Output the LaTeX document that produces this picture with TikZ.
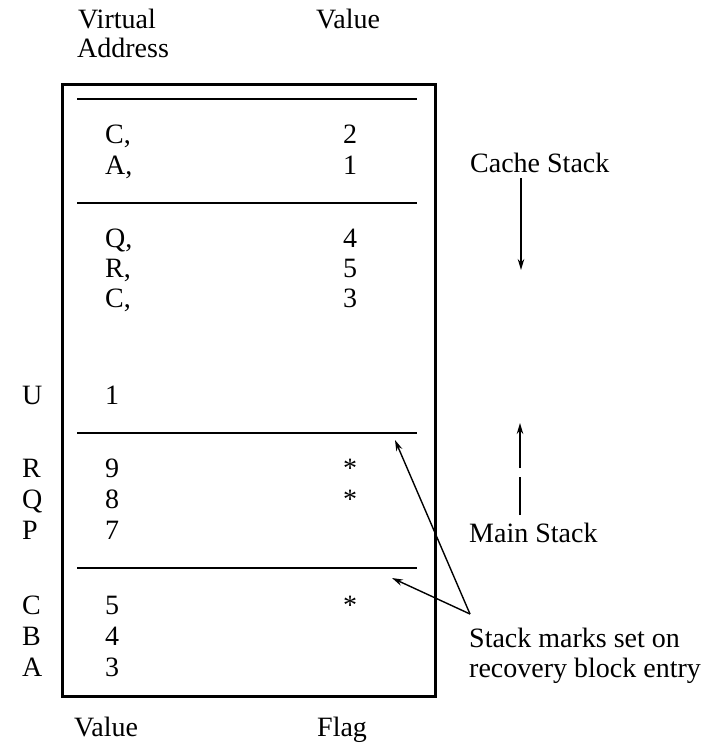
\documentclass[tikz,border=0pt]{standalone}
\usepackage{fontspec}
\setmainfont{Liberation Serif}
\usetikzlibrary{arrows.meta}
\begin{document}
\begin{tikzpicture}[x=1pt,y=-1pt,
  txt/.style={font=\fontsize{28}{32}\selectfont, inner sep=0pt, anchor=base west},
  frame/.style={draw, line width=3pt, inner sep=0pt, anchor=north west},
  rule/.style={line width=1.3pt},
  pointer/.style={line width=1.4pt, -{Stealth[length=11pt,width=6.5pt]}},
  shaft/.style={line width=1.4pt}]
\useasboundingbox (0,0) rectangle (704,745);

% column headings
\node[txt] (hVA1) at (78,28) {Virtual};
\node[txt] (hVA2) at (77,57) {Address};
\node[txt] (hVal) at (316,28) {Value};

% the stack frame
\node[frame, minimum width=373pt, minimum height=612pt] (stack) at (61,83) {};

% separators between regions
\draw[rule] (77,99) -- (417,99);
\draw[rule] (77,203) -- (417,203);
\draw[rule] (77,433) -- (417,433);
\draw[rule] (77,568) -- (417,568);

% cache stack entries
\node[txt] (c1a) at (105,143) {C,};  \node[txt] (c1v) at (343,143) {2};
\node[txt] (c2a) at (105,174) {A,};  \node[txt] (c2v) at (343,174) {1};
\node[txt] (c3a) at (105,247) {Q,};  \node[txt] (c3v) at (343,247) {4};
\node[txt] (c4a) at (105,277) {R,};  \node[txt] (c4v) at (343,277) {5};
\node[txt] (c5a) at (105,307) {C,};  \node[txt] (c5v) at (343,307) {3};

% main stack entries
\node[txt] (mU)  at (22,404) {U};  \node[txt] (mUv) at (105,404) {1};
\node[txt] (mR)  at (22,477) {R};  \node[txt] (mRv) at (105,477) {9};  \node[txt] (mRf) at (343,477) {*};
\node[txt] (mQ)  at (22,508) {Q};  \node[txt] (mQv) at (105,508) {8};  \node[txt] (mQf) at (343,508) {*};
\node[txt] (mP)  at (22,539) {P};  \node[txt] (mPv) at (105,539) {7};
\node[txt] (mC)  at (22,614) {C};  \node[txt] (mCv) at (105,614) {5};  \node[txt] (mCf) at (343,614) {*};
\node[txt] (mB)  at (22,645) {B};  \node[txt] (mBv) at (105,645) {4};
\node[txt] (mA)  at (22,676) {A};  \node[txt] (mAv) at (105,676) {3};

% bottom headings
\node[txt] (fVal)  at (74,736) {Value};
\node[txt] (fFlag) at (317,736) {Flag};

% right-hand labels
\node[txt] (cache) at (470,172) {Cache Stack};
\node[txt] (main)  at (469,542) {Main Stack};
\node[txt] (marks1) at (469,647) {Stack marks set on};
\node[txt] (marks2) at (469,677) {recovery block entry};

% growth directions of the two stacks
\coordinate (cacheTop) at (521,178);
\coordinate (cacheTip) at (521,270);
\draw[pointer] (cacheTop) -- (cacheTip);

\coordinate (mainLow)  at (520,515);
\coordinate (mainBrkA) at (520,477);
\coordinate (mainBrkB) at (520,468);
\coordinate (mainTip)  at (520,423);
\draw[shaft] (mainLow) -- (mainBrkA);
\draw[pointer] (mainBrkB) -- (mainTip);

% pointers to the stack marks
\coordinate (fork)  at (470,614);
\coordinate (markA) at (395,440);
\coordinate (markB) at (392,578);
\draw[pointer] (fork) -- (markA);
\draw[pointer] (fork) -- (markB);
\end{tikzpicture}
\end{document}
